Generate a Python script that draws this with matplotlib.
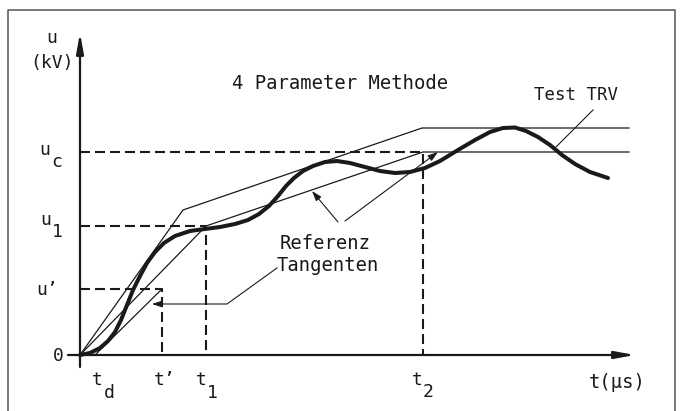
import matplotlib
matplotlib.use("Agg")
import numpy as np
from matplotlib import pyplot as plt

# diagram units (schematic, no real scale)
t_d = 1.5
t_p = 8.2      # t'
t_1 = 12.6
t_2 = 34.3
t_end = 54.9
u_p = 6.6      # u'
u_1 = 12.9
u_c = 20.3

# upper envelope of the test TRV
env_t = [0, 10.3, 34.2, t_end]
env_u = [0, 14.5, 22.7, 22.7]

# reference line (4 parameter) and delay line
ref_t = [0, t_1, t_2, t_end]
ref_u = [0, u_1, u_c, u_c]
delay_t = [t_d, t_p]
delay_u = [0, u_p]

# test TRV curve
trv_t = [0, 1.0, 2.0, 2.8, 3.5, 4.1, 4.7, 5.3, 6.0, 6.7, 7.5, 8.4, 9.5, 11.0,
         12.5, 14.0, 15.5, 16.8, 17.9, 18.9, 19.8, 20.6, 21.4, 22.3, 23.3,
         24.5, 25.7, 27.0, 28.5, 30.0, 31.5, 33.0, 34.5, 36.0, 37.8, 39.5,
         41.0, 42.3, 43.5, 44.6, 45.8, 47.0, 48.2, 49.5, 51.0, 52.8]
trv_u = [0, 0.2, 0.7, 1.4, 2.3, 3.5, 5.0, 6.5, 7.9, 9.2, 10.3, 11.2, 11.9, 12.4,
         12.6, 12.8, 13.1, 13.5, 14.1, 14.9, 15.9, 16.9, 17.7, 18.4, 18.9,
         19.3, 19.4, 19.2, 18.8, 18.4, 18.2, 18.3, 18.7, 19.4, 20.5, 21.5,
         22.3, 22.7, 22.75, 22.4, 21.8, 21.0, 20.0, 19.1, 18.3, 17.7]

ink = "#1a1a1a"
font = "DejaVu Sans Mono"
fs = 13
fs_big = 13.6

fig = plt.figure(figsize=(6.81, 4.11), dpi=100)
ax = fig.add_axes([0, 0, 1, 1])
ax.set_xlim(-8.0, 60.1)
ax.set_ylim(-5.6, 35.5)
ax.set_axis_off()

# frame
ax.plot([-7.2, -7.2, 59.5, 59.5], [-6, 34.5, 34.5, -6], color="#555555", lw=1.1)

# axes with arrows
arr = dict(arrowstyle="-|>,head_length=1.2,head_width=0.22", lw=1.6,
           color=ink, shrinkA=0, shrinkB=0)
ax.annotate("", xy=(55.5, 0), xytext=(-1.2, 0), arrowprops=arr)
ax.annotate("", xy=(0, 32.2), xytext=(0, -1.2), arrowprops=arr)

# dashed helper lines
dash = dict(color=ink, lw=1.5, ls=(0, (4.8, 2.4)))
for tt, uu in [(t_p, u_p), (t_1, u_1), (t_2, u_c)]:
    ax.plot([0, tt, tt], [uu, uu, 0], **dash)

# thin lines
ax.plot(env_t, env_u, color=ink, lw=0.9)
ax.plot(ref_t, ref_u, color=ink, lw=0.9)
ax.plot(delay_t, delay_u, color=ink, lw=0.9)

# TRV curve
ax.plot(trv_t, trv_u, color=ink, lw=2.9, solid_capstyle="round",
        solid_joinstyle="round")

# leaders
lead = dict(arrowstyle="-|>,head_length=0.6,head_width=0.2", lw=0.8,
            color=ink, shrinkA=0, shrinkB=0)
ax.annotate("", xy=(23.2, 16.4), xytext=(25.8, 13.3), arrowprops=lead)
ax.annotate("", xy=(35.8, 20.3), xytext=(26.5, 13.4), arrowprops=lead)
ax.plot([19.7, 14.7, 7.6], [8.7, 5.1, 5.1], color=ink, lw=0.8)
ax.annotate("", xy=(7.2, 5.1), xytext=(8.0, 5.1), arrowprops=lead)
ax.plot([51.3, 47.6], [24.5, 20.8], color=ink, lw=0.8)

txt = dict(family=font, fontsize=fs, color=ink, ha="center", va="center")
ax.text(-2.8, 31.7, "u", **txt)
ax.text(-2.8, 29.2, "(kV)", **txt)
ax.text(15.2, 27.2, "4 Parameter Methode", **dict(txt, ha="left", fontsize=fs_big))
ax.text(45.4, 26.0, "Test TRV", **dict(txt, ha="left", fontsize=12.5))
ax.text(20.0, 11.2, "Referenz", **dict(txt, ha="left", fontsize=fs_big))
ax.text(19.7, 9.0, "Tangenten", **dict(txt, ha="left", fontsize=fs_big))

# y labels
ax.text(-3.5, 20.5, "u", **txt)
ax.text(-2.3, 19.3, "c", **txt)
ax.text(-3.4, 13.5, "u", **txt)
ax.text(-2.3, 12.3, "1", **txt)
ax.text(-3.3, 6.5, "u\u2019", **txt)
ax.text(-2.2, -0.1, "0", **txt)

# t labels
ax.text(1.7, -2.5, "t", **txt)
ax.text(2.9, -3.8, "d", **txt)
ax.text(8.5, -2.5, "t\u2019", **txt)
ax.text(12.1, -2.5, "t", **txt)
ax.text(13.2, -3.8, "1", **txt)
ax.text(33.7, -2.5, "t", **txt)
ax.text(34.8, -3.7, "2", **txt)
ax.text(53.7, -2.7, "t(\u00b5s)", **dict(txt, fontsize=fs_big))

fig.savefig("out.png", dpi=100)
